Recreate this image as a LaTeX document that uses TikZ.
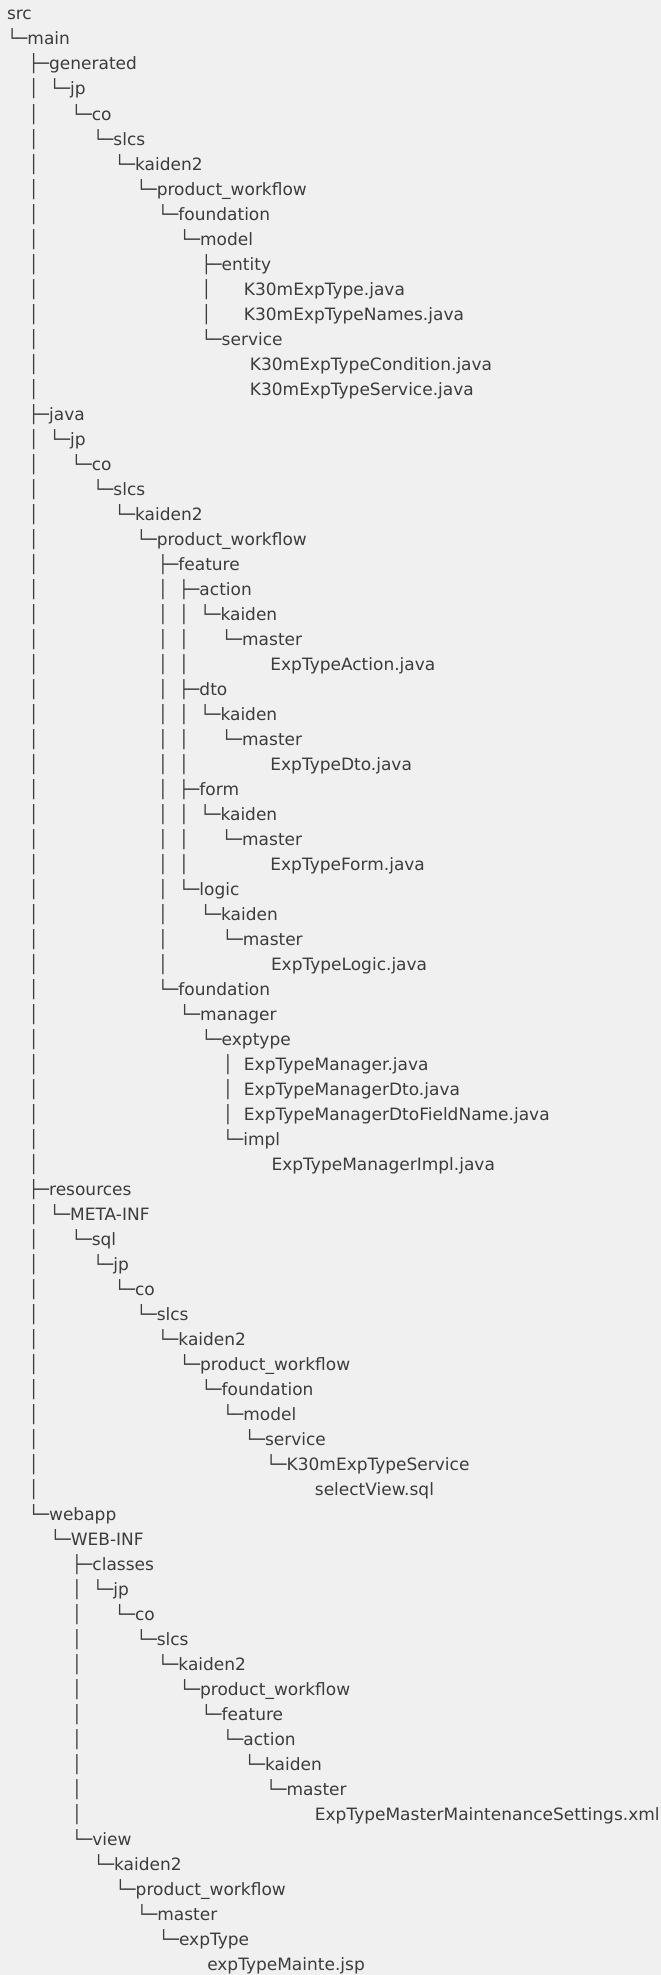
\documentclass[tikz,border=0pt]{standalone}
\usepackage{fontspec}
\setmainfont{DejaVu Sans}
\definecolor{bgcol}{HTML}{F0F0F0}
\definecolor{txtcol}{HTML}{3C3C3C}
\newcommand\tS{\kern21.65pt\relax}
\newcommand\tSx[1]{\kern\dimexpr21.65pt*#1\relax}
\newcommand\tV{\makebox[21.05pt][l]{│}}
\newcommand\tT{\makebox[20.5pt][l]{├─}}
\newcommand\tL{\makebox[20.5pt][l]{└─}}
\newcommand\Row[2]{\node[treeline] (n#1) at (7,{-20-25*(#1-1)}) {#2};}
\tikzset{treeline/.style={anchor=base west, inner sep=0pt, outer sep=0pt, text=txtcol, font=\fontsize{17}{25}\selectfont}}
\begin{document}
\begin{tikzpicture}[x=1pt,y=1pt]
\fill[bgcol] (0,0) rectangle (661,-1975);
\useasboundingbox (0,0) rectangle (661,-1975);
\Row{1}{src}
\Row{2}{\tL main}
\Row{3}{\tS\tT generated}
\Row{4}{\tS\tV\tL jp}
\Row{5}{\tS\tV\tS\tL co}
\Row{6}{\tS\tV\tSx{2}\tL slcs}
\Row{7}{\tS\tV\tSx{3}\tL kaiden2}
\Row{8}{\tS\tV\tSx{4}\tL product\_workflow}
\Row{9}{\tS\tV\tSx{5}\tL foundation}
\Row{10}{\tS\tV\tSx{6}\tL model}
\Row{11}{\tS\tV\tSx{7}\tT entity}
\Row{12}{\tS\tV\tSx{7}\tV\tS K30mExpType.java}
\Row{13}{\tS\tV\tSx{7}\tV\tS K30mExpTypeNames.java}
\Row{14}{\tS\tV\tSx{7}\tL service}
\Row{15}{\tS\tV\tSx{9} K30mExpTypeCondition.java}
\Row{16}{\tS\tV\tSx{9} K30mExpTypeService.java}
\Row{17}{\tS\tT java}
\Row{18}{\tS\tV\tL jp}
\Row{19}{\tS\tV\tS\tL co}
\Row{20}{\tS\tV\tSx{2}\tL slcs}
\Row{21}{\tS\tV\tSx{3}\tL kaiden2}
\Row{22}{\tS\tV\tSx{4}\tL product\_workflow}
\Row{23}{\tS\tV\tSx{5}\tT feature}
\Row{24}{\tS\tV\tSx{5}\tV\tT action}
\Row{25}{\tS\tV\tSx{5}\tV\tV\tL kaiden}
\Row{26}{\tS\tV\tSx{5}\tV\tV\tS\tL master}
\Row{27}{\tS\tV\tSx{5}\tV\tV\tSx{3} ExpTypeAction.java}
\Row{28}{\tS\tV\tSx{5}\tV\tT dto}
\Row{29}{\tS\tV\tSx{5}\tV\tV\tL kaiden}
\Row{30}{\tS\tV\tSx{5}\tV\tV\tS\tL master}
\Row{31}{\tS\tV\tSx{5}\tV\tV\tSx{3} ExpTypeDto.java}
\Row{32}{\tS\tV\tSx{5}\tV\tT form}
\Row{33}{\tS\tV\tSx{5}\tV\tV\tL kaiden}
\Row{34}{\tS\tV\tSx{5}\tV\tV\tS\tL master}
\Row{35}{\tS\tV\tSx{5}\tV\tV\tSx{3} ExpTypeForm.java}
\Row{36}{\tS\tV\tSx{5}\tV\tL logic}
\Row{37}{\tS\tV\tSx{5}\tV\tS\tL kaiden}
\Row{38}{\tS\tV\tSx{5}\tV\tSx{2}\tL master}
\Row{39}{\tS\tV\tSx{5}\tV\tSx{4} ExpTypeLogic.java}
\Row{40}{\tS\tV\tSx{5}\tL foundation}
\Row{41}{\tS\tV\tSx{6}\tL manager}
\Row{42}{\tS\tV\tSx{7}\tL exptype}
\Row{43}{\tS\tV\tSx{8}\tV ExpTypeManager.java}
\Row{44}{\tS\tV\tSx{8}\tV ExpTypeManagerDto.java}
\Row{45}{\tS\tV\tSx{8}\tV ExpTypeManagerDtoFieldName.java}
\Row{46}{\tS\tV\tSx{8}\tL impl}
\Row{47}{\tS\tV\tSx{10} ExpTypeManagerImpl.java}
\Row{48}{\tS\tT resources}
\Row{49}{\tS\tV\tL META-INF}
\Row{50}{\tS\tV\tS\tL sql}
\Row{51}{\tS\tV\tSx{2}\tL jp}
\Row{52}{\tS\tV\tSx{3}\tL co}
\Row{53}{\tS\tV\tSx{4}\tL slcs}
\Row{54}{\tS\tV\tSx{5}\tL kaiden2}
\Row{55}{\tS\tV\tSx{6}\tL product\_workflow}
\Row{56}{\tS\tV\tSx{7}\tL foundation}
\Row{57}{\tS\tV\tSx{8}\tL model}
\Row{58}{\tS\tV\tSx{9}\tL service}
\Row{59}{\tS\tV\tSx{10}\tL K30mExpTypeService}
\Row{60}{\tS\tV\tSx{12} selectView.sql}
\Row{61}{\tS\tL webapp}
\Row{62}{\tSx{2}\tL WEB-INF}
\Row{63}{\tSx{3}\tT classes}
\Row{64}{\tSx{3}\tV\tL jp}
\Row{65}{\tSx{3}\tV\tS\tL co}
\Row{66}{\tSx{3}\tV\tSx{2}\tL slcs}
\Row{67}{\tSx{3}\tV\tSx{3}\tL kaiden2}
\Row{68}{\tSx{3}\tV\tSx{4}\tL product\_workflow}
\Row{69}{\tSx{3}\tV\tSx{5}\tL feature}
\Row{70}{\tSx{3}\tV\tSx{6}\tL action}
\Row{71}{\tSx{3}\tV\tSx{7}\tL kaiden}
\Row{72}{\tSx{3}\tV\tSx{8}\tL master}
\Row{73}{\tSx{3}\tV\tSx{10} ExpTypeMasterMaintenanceSettings.xml}
\Row{74}{\tSx{3}\tL view}
\Row{75}{\tSx{4}\tL kaiden2}
\Row{76}{\tSx{5}\tL product\_workflow}
\Row{77}{\tSx{6}\tL master}
\Row{78}{\tSx{7}\tL expType}
\Row{79}{\tSx{9} expTypeMainte.jsp}
\end{tikzpicture}
\end{document}
